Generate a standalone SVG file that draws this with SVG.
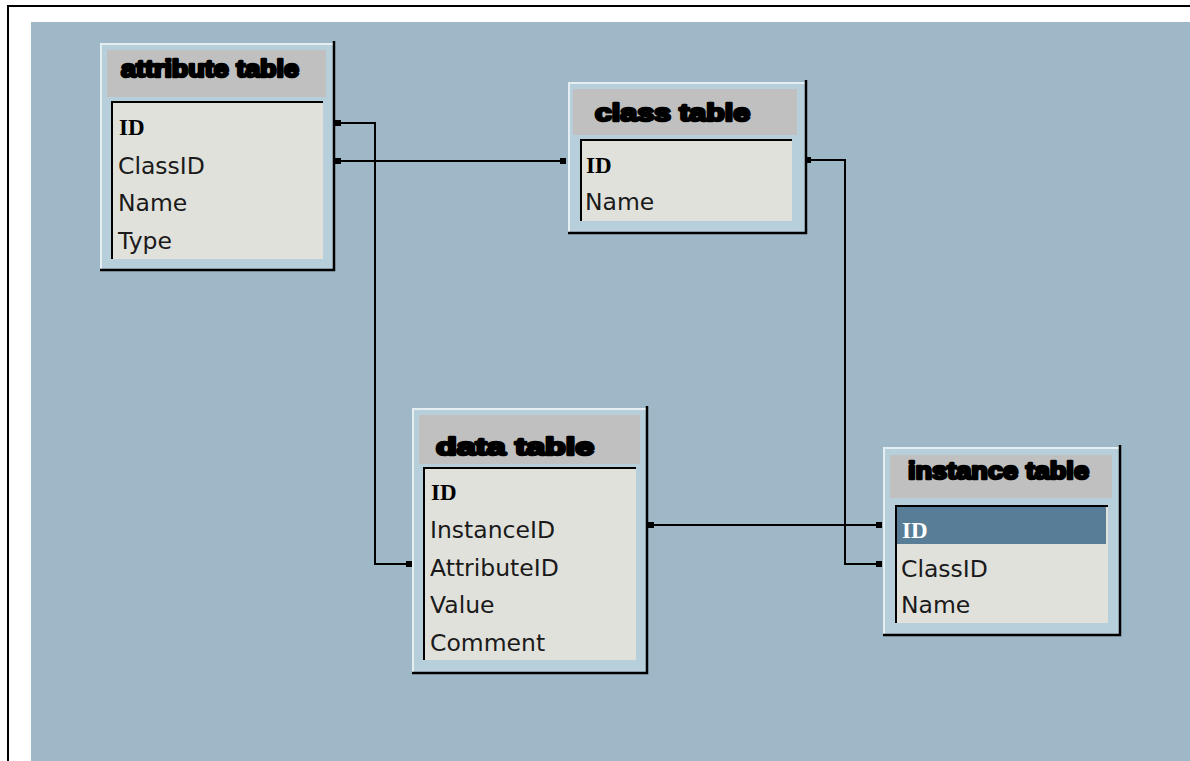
<svg xmlns="http://www.w3.org/2000/svg" width="1190" height="761" viewBox="0 0 1190 761">
<style>
.frame{fill:#b7cedb;}
.hl{stroke:#e4eef3;stroke-width:2;fill:none;}
.sh{stroke:#000;stroke-width:2.5;fill:none;}
.hdr{fill:#c0c0c0;}
.body{fill:#e1e1dc;}
.sunk{stroke:#000;stroke-width:2;fill:none;}
.title{font-family:"Liberation Sans",Arial,sans-serif;font-weight:bold;font-size:24px;fill:#000;stroke:#000;stroke-width:2.6;stroke-linejoin:round;}
.row{font-family:"DejaVu Sans",Verdana,sans-serif;font-size:23.5px;fill:#1a1a1a;}
.key{font-family:"Liberation Serif","Times New Roman",serif;font-weight:bold;font-size:23px;fill:#000;}
.conn{stroke:#000;stroke-width:2;fill:none;}
.dot{fill:#000;}
</style>
<rect x="0" y="0" width="1190" height="761" fill="#ffffff"/>
<rect x="31" y="22" width="1159" height="739" fill="#9eb8c8"/>
<line x1="8" y1="6" x2="1190" y2="6" stroke="#000" stroke-width="2"/>
<line x1="8" y1="5" x2="8" y2="761" stroke="#000" stroke-width="2"/>

<g id="connectors">
<polyline class="conn" points="338,123 375,123 375,564 410,564"/>
<line class="conn" x1="338" y1="161" x2="563" y2="161"/>
<polyline class="conn" points="808,160 845,160 845,564 879,564"/>
<line class="conn" x1="651" y1="525" x2="879" y2="525"/>
<rect class="dot" x="335" y="120" width="6" height="6"/>
<rect class="dot" x="335" y="158" width="6" height="6"/>
<rect class="dot" x="560" y="158" width="6" height="6"/>
<rect class="dot" x="805" y="157" width="6" height="6"/>
<rect class="dot" x="406" y="561" width="6" height="6"/>
<rect class="dot" x="648" y="522" width="6" height="6"/>
<rect class="dot" x="876" y="522" width="6" height="6"/>
<rect class="dot" x="876" y="561" width="6" height="6"/>
</g>

<g id="attribute-table">
<rect class="frame" x="100" y="43" width="234" height="228"/>
<polyline class="hl" points="101,270 101,44 333,44"/>
<polyline class="sh" points="100,270 334,270 334,41"/>
<rect class="hdr" x="107" y="50" width="219" height="47"/>
<rect class="body" x="111" y="101" width="212" height="158"/>
<polyline class="sunk" points="112,259 112,102 323,102"/>
<text class="title" x="121" y="77" textLength="178" lengthAdjust="spacingAndGlyphs">attribute table</text>
<text class="key" x="119" y="135">ID</text>
<text class="row" x="118" y="174">ClassID</text>
<text class="row" x="118" y="211">Name</text>
<text class="row" x="118" y="249">Type</text>
</g>

<g id="class-table">
<rect class="frame" x="568" y="82" width="238" height="152"/>
<polyline class="hl" points="569,233 569,83 805,83"/>
<polyline class="sh" points="568,233 806,233 806,80"/>
<rect class="hdr" x="573" y="89" width="224" height="46"/>
<rect class="body" x="580" y="139" width="212" height="82"/>
<polyline class="sunk" points="581,221 581,140 792,140"/>
<text class="title" x="595" y="121" textLength="155" lengthAdjust="spacingAndGlyphs">class table</text>
<text class="key" x="586" y="173">ID</text>
<text class="row" x="585" y="210">Name</text>
</g>

<g id="data-table">
<rect class="frame" x="412" y="408" width="235" height="266"/>
<polyline class="hl" points="413,673 413,409 646,409"/>
<polyline class="sh" points="412,673 647,673 647,406"/>
<rect class="hdr" x="419" y="415" width="221" height="49"/>
<rect class="body" x="423" y="467" width="213" height="193"/>
<polyline class="sunk" points="424,660 424,468 636,468"/>
<text class="title" x="436" y="455" textLength="158" lengthAdjust="spacingAndGlyphs">data table</text>
<text class="key" x="431" y="500">ID</text>
<text class="row" x="430" y="538">InstanceID</text>
<text class="row" x="430" y="576">AttributeID</text>
<text class="row" x="430" y="613">Value</text>
<text class="row" x="430" y="651">Comment</text>
</g>

<g id="instance-table">
<rect class="frame" x="883" y="447" width="237" height="189"/>
<polyline class="hl" points="884,635 884,448 1119,448"/>
<polyline class="sh" points="883,635 1120,635 1120,445"/>
<rect class="hdr" x="890" y="455" width="222" height="43"/>
<rect class="body" x="895" y="505" width="213" height="118"/>
<rect x="897" y="507" width="209" height="37" fill="#587e97"/>
<polyline class="sunk" points="896,623 896,506 1108,506"/>
<text class="title" x="908" y="479" textLength="181" lengthAdjust="spacingAndGlyphs">instance table</text>
<text class="key" x="902" y="538" style="fill:#ffffff">ID</text>
<text class="row" x="901" y="577">ClassID</text>
<text class="row" x="901" y="613">Name</text>
</g>
</svg>
